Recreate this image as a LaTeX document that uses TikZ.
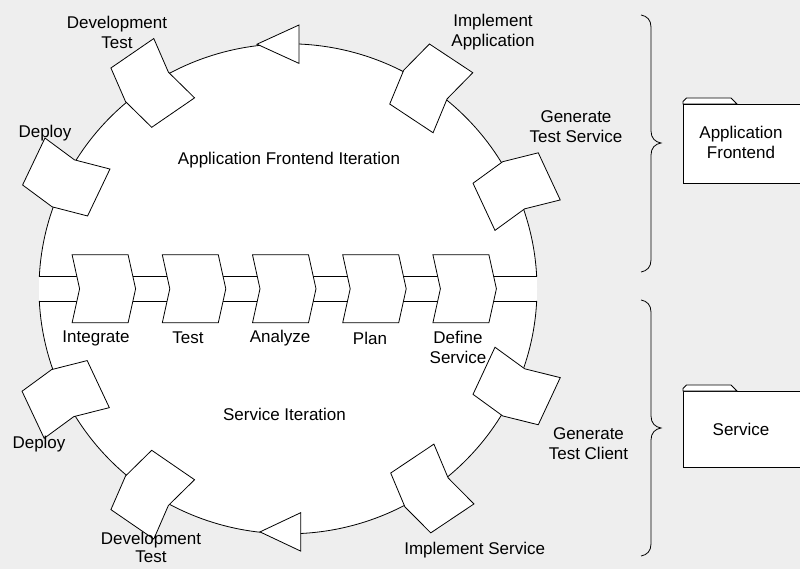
\documentclass[tikz,border=0pt]{standalone}
\usepackage{fontspec}
\setmainfont{Liberation Sans}
\usetikzlibrary{calc}
\newcommand\chevshape[5]{% #1 centre, #2 angle, #3 notch-to-tip length, #4 height, #5 notch depth
  \draw[shp, shift={(#1)}, rotate=#2] ({-#3/2-#5},{#4/2}) -- ({#3/2-#5},{#4/2}) -- ({#3/2},0) -- ({#3/2-#5},{-#4/2}) -- ({-#3/2-#5},{-#4/2}) -- ({-#3/2},0) -- cycle;}
\begin{document}
\begin{tikzpicture}[x=1pt,y=1pt,
  shp/.style={draw=black, fill=white, line width=0.8pt, line join=miter},
  conn/.style={draw=black, line width=0.8pt},
  lbl/.style={font=\fontsize{17}{20}\selectfont, align=center, inner sep=0pt, text=black}]
\useasboundingbox (0,0) rectangle (800,568);
\shade[top color=gray!13, middle color=white, bottom color=gray!13] (0,0) rectangle (800,568);
% loops
\coordinate (C) at (288,279.2);
\fill[white] (C) ellipse[x radius=249, y radius=245];
\coordinate (Ru) at ($(C)+(2.854:249 and 245)$);
\coordinate (Lu) at ($(C)+(177.146:249 and 245)$);
\coordinate (Rl) at ($(C)+(-2.854:249 and 245)$);
\coordinate (Ll) at ($(C)+(-177.146:249 and 245)$);
\draw[conn] (Ru) arc[start angle=2.854, end angle=177.146, x radius=249, y radius=245];
\draw[conn] (Rl) arc[start angle=-2.854, end angle=-177.146, x radius=249, y radius=245];
\draw[conn] (Lu) -- (Ru);
\draw[conn] (Ll) -- (Rl);
% arc activities
\coordinate (gts) at ($(C)+(25:249 and 245)$);
\coordinate (ima) at ($(C)+(56.5:249 and 245)$);
\coordinate (dvt) at ($(C)+(124.5:249 and 245)$);
\coordinate (dpt) at ($(C)+(154.5:249 and 245)$);
\coordinate (gtc) at ($(C)+(-25:249 and 245)$);
\coordinate (ims) at ($(C)+(-56.2:249 and 245)$);
\coordinate (dvb) at ($(C)+(-124.5:249 and 245)$);
\coordinate (dpb) at ($(C)+(-154.8:249 and 245)$);
\chevshape{gts}{115}{52}{72}{7}
\chevshape{ima}{146.5}{52}{72}{7}
\chevshape{dvt}{214.5}{52}{72}{7}
\chevshape{dpt}{244.5}{52}{72}{7}
\chevshape{gtc}{-115}{52}{72}{7}
\chevshape{ims}{-146.2}{52}{72}{7}
\chevshape{dvb}{-214.5}{52}{72}{7}
\chevshape{dpb}{-244.8}{52}{72}{7}
% middle chevrons
\coordinate (c1) at ($(C)+(-180.4,0)$);
\coordinate (c2) at ($(C)+(-90.2,0)$);
\coordinate (c3) at ($(C)+(0,0)$);
\coordinate (c4) at ($(C)+(90.2,0)$);
\coordinate (c5) at ($(C)+(180.4,0)$);
\chevshape{c1}{0}{56}{68}{7.5}
\chevshape{c2}{0}{56}{68}{7.5}
\chevshape{c3}{0}{56}{68}{7.5}
\chevshape{c4}{0}{56}{68}{7.5}
\chevshape{c5}{0}{56}{68}{7.5}
% direction triangles
\coordinate (tt) at (257,523.8);
\coordinate (tb) at (260,36.1);
\draw[shp] (tt) -- ++(42,19.2) -- ++(0,-38.4) -- cycle;
\draw[shp] (tb) -- ++(40.7,19.2) -- ++(0,-38.4) -- cycle;
% labels
\node[lbl] (ldvt) at (117,536) {Development\\Test};
\node[lbl] (ldpt) at (45,435) {Deploy};
\node[lbl] (lima) at (493,536) {Implement\\Application};
\node[lbl] (lgts) at (576,441) {Generate\\Test Service};
\node[lbl] (lafi) at (289,408) {Application Frontend Iteration};
\node[lbl] (lint) at (96,230) {Integrate};
\node[lbl] (ltst) at (188,230) {Test};
\node[lbl] (lana) at (280,230) {Analyze};
\node[lbl] (lpln) at (370,230) {Plan};
\node[lbl] (ldef) at (458,221) {Define\\Service};
\node[lbl] (lsi) at (284.5,154) {Service Iteration};
\node[lbl] (ldpb) at (39,124) {Deploy};
\node[lbl, font=\fontsize{17}{18.5}\selectfont] (ldvb) at (151,20.5) {Development\\Test};
\node[lbl] (lgtc) at (588.5,124.3) {Generate\\Test Client};
\node[lbl] (lims) at (474.7,18) {Implement Service};
% braces
\draw[conn] (641,553) .. controls (647,552) and (651,548) .. (651,541) -- (651,437)
  .. controls (651,430) and (655,426) .. (661,425) .. controls (655,424) and (651,420) .. (651,413)
  -- (651,308) .. controls (651,301) and (647,297) .. (641,296);
\draw[conn] (641,268) .. controls (647,267) and (651,263) .. (651,256) -- (651,152)
  .. controls (651,145) and (655,141) .. (661,140) .. controls (655,139) and (651,135) .. (651,128)
  -- (651,24) .. controls (651,17) and (647,13) .. (641,12);
% folders
\draw[shp] (806,464) -- (683,464) -- (683,385) -- (806,385);
\draw[shp] (683,464) -- (683,466.5) -- (686.5,470) -- (731,470) -- (737,464) -- cycle;
\node[lbl] (lfa) at (741,425.5) {Application\\Frontend};
\draw[shp] (806,177) -- (683,177) -- (683,101) -- (806,101);
\draw[shp] (683,177) -- (683,179.5) -- (686.5,183) -- (731,183) -- (737,177) -- cycle;
\node[lbl] (lfs) at (741,139) {Service};
\end{tikzpicture}
\end{document}
